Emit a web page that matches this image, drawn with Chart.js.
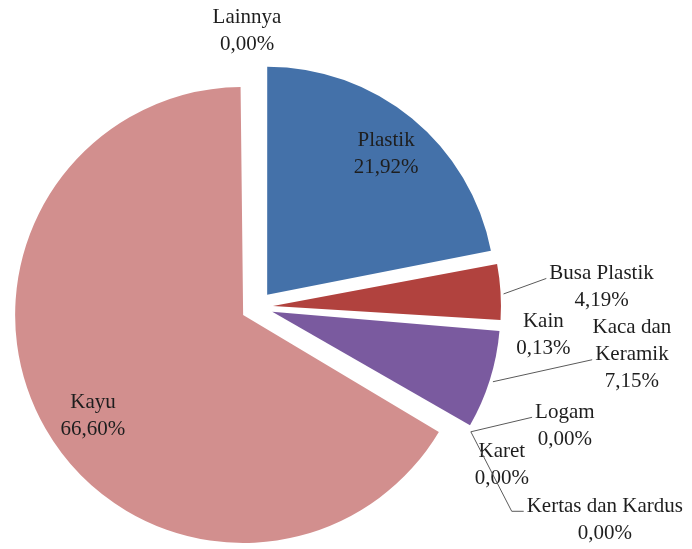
<!DOCTYPE html>
<html>
<head>
<meta charset="utf-8">
<script src="https://cdn.jsdelivr.net/npm/chart.js@4.4.0/dist/chart.umd.min.js"></script>
<style>
  html, body { margin: 0; padding: 0; background: #fff; }
  #wrap { width: 692px; height: 549px; }
</style>
</head>
<body>
<div id="wrap"><canvas id="pieChart" width="692" height="549"></canvas></div>
<script>
// komposisi sampah (persen)
const categories = ['Plastik', 'Busa Plastik', 'Kain', 'Kaca dan Keramik', 'Logam', 'Karet', 'Kertas dan Kardus', 'Kayu', 'Lainnya'];
const percentages = [21.92, 4.19, 0.13, 7.15, 0.00, 0.00, 0.00, 66.60, 0.00];
const sliceColors = ['#4471a9', '#b1423e', '#e6d3b6', '#7a5a9f', '#4aacc6', '#f79646', '#2c4d75', '#d28f8e', '#9bbb59'];
const labelWrap = { 'Kaca dan Keramik': ['Kaca dan', 'Keramik'] };

// where each label sits: inside the slice, or outside relative to the slice edge
const labelPlace = [
    { mode: 'in', k: 0.8, dx: 3, dy: 0 },
    { mode: 'out', dx: 101, dy: -5, leader: 0 },
    { mode: 'out', dx: 43, dy: 10 },
    { mode: 'out', dx: 142, dy: -25, leader: 1 },
    { mode: 'out', dx: 97, dy: -4, leader: 0 },
    { mode: 'out', dx: 34, dy: 35 },
    { mode: 'out', dx: 137, dy: 90, leader: 0, elbow: true },
    { mode: 'in', k: 0.8, dx: 8, dy: 10 },
    { mode: 'out', dx: -10, dy: -32 }
];

function fmt(v) {
    return v.toFixed(2).replace('.', ',') + '%';
}

// chart.js grows big exploded slices by offset/4, keep every slice the same size
const sameRadius = {
    id: 'sameRadius',
    afterDatasetUpdate(chart, args) {
        const meta = chart.getDatasetMeta(args.index);
        meta.data.forEach(function(arc) {
            const off = (arc.options.offset || 0) / 4;
            const circ = arc.endAngle - arc.startAngle;
            const fix = 1 - Math.sin(Math.min(Math.PI, circ || 0));
            arc.outerRadius = meta.controller.outerRadius - off * fix;
        });
    }
};

const sliceLabels = {
    id: 'sliceLabels',
    afterDatasetsDraw(chart) {
        const ctx = chart.ctx;
        const arcs = chart.getDatasetMeta(0).data;
        const lh = 27;
        ctx.save();
        ctx.font = '21px "Liberation Serif", "Times New Roman", serif';
        ctx.fillStyle = '#1e1e1e';
        ctx.textAlign = 'center';
        ctx.textBaseline = 'middle';
        ctx.strokeStyle = '#5a5a5a';
        ctx.lineWidth = 1;
        arcs.forEach(function(arc, i) {
            const p = labelPlace[i];
            const a = (arc.startAngle + arc.endAngle) / 2;
            const off = (arc.options.offset || 0) / 4;
            const r = chart.getDatasetMeta(0).controller.outerRadius;
            let tx, ty, ax, ay;
            if (p.mode === 'in') {
                const d = off + p.k * r;
                tx = arc.x + Math.cos(a) * d + p.dx;
                ty = arc.y + Math.sin(a) * d + p.dy;
            } else {
                const d = off + r;
                ax = arc.x + Math.cos(a) * d;
                ay = arc.y + Math.sin(a) * d;
                tx = ax + p.dx;
                ty = ay + p.dy;
            }
            const lines = (labelWrap[categories[i]] || [categories[i]]).concat([fmt(percentages[i])]);
            const y0 = ty - (lines.length - 1) * lh / 2;
            lines.forEach(function(t, j) {
                ctx.fillText(t, tx, y0 + j * lh);
            });
            if (p.leader !== undefined) {
                const w = ctx.measureText(lines[p.leader]).width;
                const ex = tx - w / 2 - 3;
                const ey = y0 + p.leader * lh + 5;
                ctx.beginPath();
                ctx.moveTo(ax + 3, ay + 2);
                if (p.elbow) {
                    ctx.lineTo(ex - 12, ey);
                }
                ctx.lineTo(ex, ey);
                ctx.stroke();
            }
        });
        ctx.restore();
    }
};

new Chart(document.getElementById('pieChart').getContext('2d'), {
    type: 'pie',
    data: {
        labels: categories,
        datasets: [{
            data: percentages,
            backgroundColor: sliceColors,
            borderWidth: 0,
            offset: 64
        }]
    },
    options: {
        responsive: false,
        animation: false,
        radius: 228,
        layout: { padding: { left: 0, right: 178, top: 65, bottom: 0 } },
        plugins: {
            legend: { display: false },
            tooltip: { enabled: false }
        }
    },
    plugins: [sameRadius, sliceLabels]
});
</script>
</body>
</html>
